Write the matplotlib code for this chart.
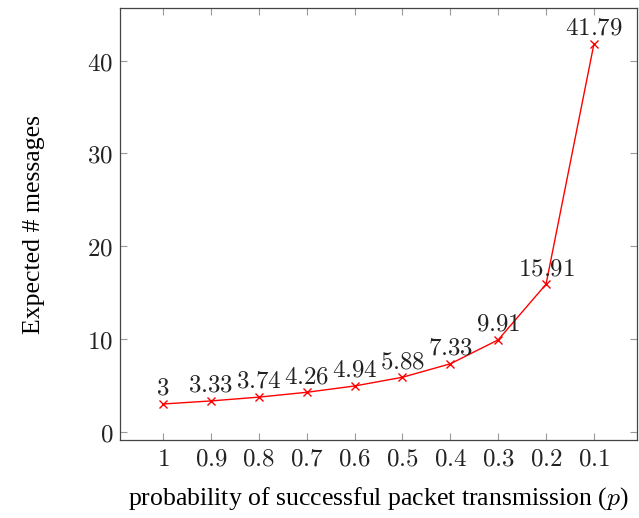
import matplotlib
matplotlib.use("Agg")
import matplotlib.pyplot as plt

categories = ["1", "0.9", "0.8", "0.7", "0.6", "0.5", "0.4", "0.3", "0.2", "0.1"]
values = [3, 3.33, 3.74, 4.26, 4.94, 5.88, 7.33, 9.91, 15.91, 41.79]
value_labels = ["3", "3.33", "3.74", "4.26", "4.94", "5.88", "7.33", "9.91", "15.91", "41.79"]
yticks = [0, 10, 20, 30, 40]

plt.rcParams['mathtext.fontset'] = 'cm'

fig = plt.figure(figsize=(6.39, 5.18), dpi=100)
ax = fig.add_axes([120/639, 78/518, 517/639, 432/518])

x = list(range(len(categories)))
ax.plot(x, values, color='red', lw=1.0, marker='x', ms=6, mew=1.0)
for xi, v, lab in zip(x, values, value_labels):
    ax.annotate(f"${lab}$", (xi, v), xytext=(0, 3), textcoords='offset points',
                ha='center', va='bottom', fontsize=18, color='#222222')

ax.set_xlim(-0.9, 9.9)
ax.set_ylim(-0.88, 45.67)
ax.set_xticks(x)
ax.set_xticklabels([f"${c}$" for c in categories], fontsize=18)
ax.set_yticks(yticks)
ax.set_yticklabels([f"${t}$" for t in yticks], fontsize=18)
ax.tick_params(direction='in', length=5, width=0.8, color='#999999',
               top=True, right=True, pad=5, labelcolor='#222222')
for s in ax.spines.values():
    s.set_color('#444444')
    s.set_linewidth(0.9)

ax.set_xlabel("probability of successful packet transmission ($p$)",
              fontsize=18.5, family='Liberation Serif', labelpad=10)
ax.set_ylabel("Expected # messages", fontsize=18.5, family='Liberation Serif', labelpad=30)

fig.savefig("out.png", dpi=100)
